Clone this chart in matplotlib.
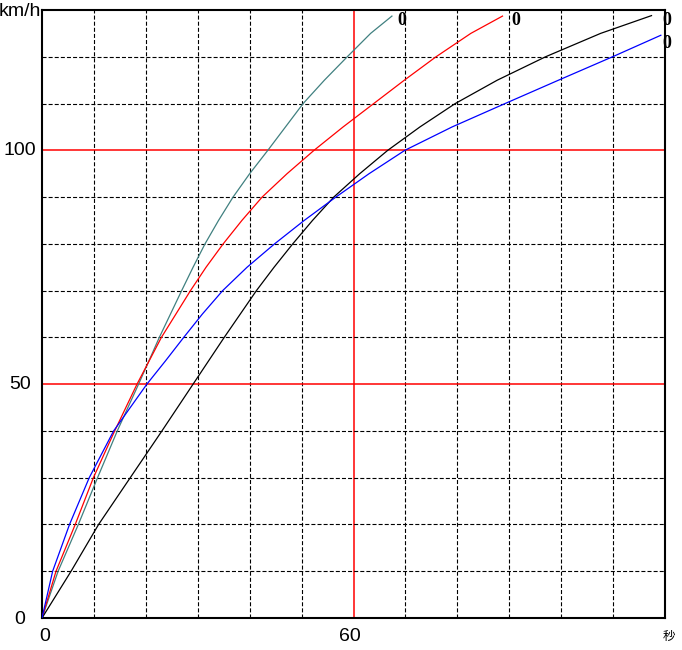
import numpy as np
import matplotlib.pyplot as plt

plt.rcParams['lines.scale_dashes'] = False

# speed (km/h) levels and the time (s) each car needs to reach them
teal_v = [0, 10, 20, 30, 40, 50, 60, 70, 75, 80, 85, 90, 95, 100, 105, 110, 115, 120, 125, 128.7]
teal_t = [0, 3.1, 7.0, 10.7, 14.5, 18.6, 22.6, 26.9, 29.1, 31.4, 34.0, 36.8, 40.0, 43.5, 46.9,
          50.3, 54.4, 58.8, 63.3, 67.4]

red_v = [0, 10, 20, 30, 40, 50, 60, 70, 75, 80, 85, 90, 95, 100, 105, 110, 115, 120, 125, 128.7]
red_t = [0, 2.7, 6.4, 9.9, 14.0, 18.3, 23.0, 28.6, 31.6, 34.9, 38.5, 42.4, 47.2, 52.4, 58.0,
         63.9, 69.8, 75.9, 82.6, 88.7]

black_v = [0, 10, 20, 30, 40, 50, 60, 70, 75, 80, 85, 90, 95, 100, 105, 110, 115, 120, 125, 128.8]
black_t = [0, 5.6, 10.9, 17.0, 23.1, 29.1, 35.1, 41.3, 44.7, 48.3, 52.1, 56.2, 61.2, 66.6, 72.8,
           79.6, 87.7, 97.0, 107.6, 117.4]

blue_v = [0, 10, 20, 30, 40, 50, 55, 60, 65, 70, 75, 80, 85, 90, 95, 100, 105, 110, 115, 120, 124.6]
blue_t = [0, 2.05, 5.3, 9.1, 13.8, 20.2, 23.8, 27.3, 30.9, 34.8, 39.5, 44.8, 50.5, 56.6, 63.0,
          69.9, 79.0, 89.2, 99.5, 109.9, 119.2]

end_labels = ["0", "0", "0", "0"]

fig = plt.figure(figsize=(6.82, 6.5), dpi=100)
ax = fig.add_axes([42 / 682, 32 / 650, 623 / 682, 608 / 650])
ax.set_xlim(0, 120)
ax.set_ylim(0, 130)

# dashed grid, red major lines
for x in range(10, 120, 10):
    if x == 60:
        ax.axvline(x, color='red', lw=1.1, zorder=1)
    else:
        ax.axvline(x, color='black', lw=0.8, dashes=(2.9, 1.5), zorder=1)
for y in range(10, 130, 10):
    if y in (50, 100):
        ax.axhline(y, color='red', lw=1.1, zorder=1)
    else:
        ax.axhline(y, color='black', lw=0.8, dashes=(2.9, 1.5), zorder=1)

ax.plot(teal_t, teal_v, color='#408080', lw=0.9, zorder=3)
ax.plot(red_t, red_v, color='red', lw=0.9, zorder=3)
ax.plot(black_t, black_v, color='black', lw=0.9, zorder=3)
ax.plot(blue_t, blue_v, color='blue', lw=0.9, zorder=3)

# labels at the end of each curve
lab_font = dict(family='Liberation Serif', fontweight='bold', fontsize=13,
                ha='center', va='center')
ax.text(69.4, 127.8, end_labels[0], **lab_font)
ax.text(91.3, 127.8, end_labels[1], **lab_font)
ax.text(120.4, 127.8, end_labels[2], clip_on=False, **lab_font)
ax.text(120.4, 122.9, end_labels[3], clip_on=False, **lab_font)

ax.set_xticks([])
ax.set_yticks([])
for s in ax.spines.values():
    s.set_linewidth(1.5)

tick_font = dict(family='Liberation Sans', fontsize=14, ha='center', va='center')
for v in [0, 50, 100]:
    ax.annotate(str(v), xy=(0, v), xycoords=('axes fraction', 'data'),
                xytext=(-15.8, -1.4 if v == 0 else 0), textcoords='offset points',
                **tick_font)
for v in [0, 60]:
    ax.annotate(str(v), xy=(v, 0), xycoords=('data', 'axes fraction'),
                xytext=(2 if v == 0 else -2.5, -13), textcoords='offset points',
                **tick_font)

fig.text(20 / 682, 1 - 12 / 650, 'km/h', ha='center', va='center',
         family='Liberation Sans', fontsize=14)
fig.text(669 / 682, 1 - 636 / 650, '秒', ha='center', va='center',
         family=['Noto Sans CJK JP', 'DejaVu Sans'], fontsize=9)

fig.savefig('out.png', dpi=100)
